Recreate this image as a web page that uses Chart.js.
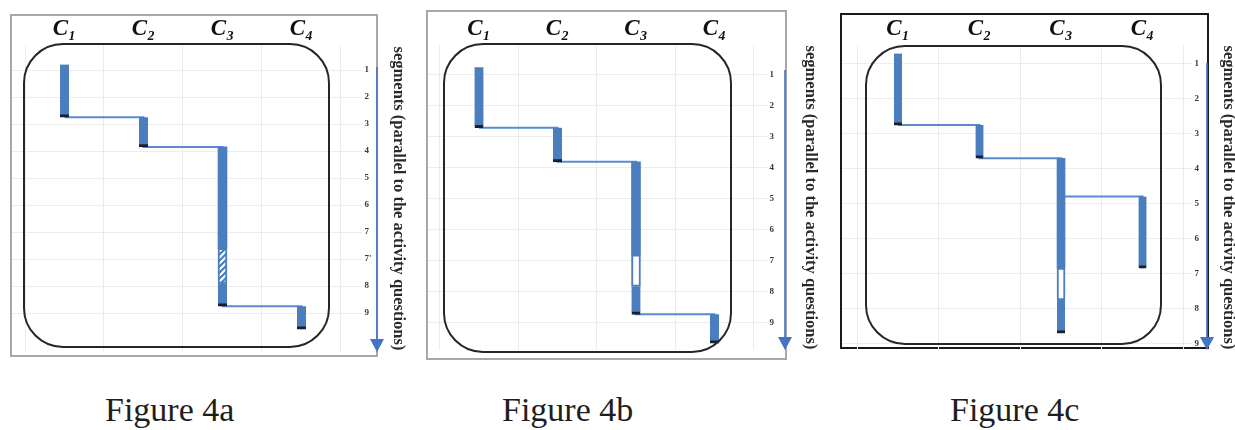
<!DOCTYPE html>
<html><head><meta charset="utf-8">
<script src="https://cdn.jsdelivr.net/npm/chart.js@4.4.1/dist/chart.umd.min.js"></script>
<style>
html,body{margin:0;padding:0;background:#fff;}
body{width:1235px;height:430px;overflow:hidden;position:relative;font-family:"Liberation Serif","Times New Roman",serif;}
.frame{position:absolute;box-sizing:border-box;z-index:0;}
.panel{position:absolute;top:0;height:370px;z-index:1;}
.rr{position:absolute;box-sizing:border-box;border:2px solid #262626;border-radius:40px;z-index:2;pointer-events:none;}
.caption{position:absolute;top:393px;font-size:34px;line-height:34px;color:#1e1e1e;white-space:nowrap;z-index:3;}
</style>
</head><body>

<div class="frame" style="left:10px;top:14px;width:368px;height:343px;border:2px solid #a8a8a8;"></div>
<div class="frame" style="left:426px;top:10px;width:361px;height:350px;border:2px solid #a8a8a8;"></div>
<div class="frame" style="left:840px;top:13px;width:369px;height:336px;border:2px solid #1a1a1a;"></div>

<div class="panel" style="left:0px;width:410px;"><canvas id="figA"></canvas></div>
<div class="panel" style="left:410px;width:413px;"><canvas id="figB"></canvas></div>
<div class="panel" style="left:825px;width:413px;"><canvas id="figC"></canvas></div>

<div class="rr" style="left:23px;top:43px;width:307px;height:305px;"></div>
<div class="rr" style="left:443px;top:43px;width:289px;height:310px;"></div>
<div class="rr" style="left:865px;top:45px;width:297px;height:300px;"></div>

<div class="caption" style="left:105px;">Figure 4a</div>
<div class="caption" style="left:502px;">Figure 4b</div>
<div class="caption" style="left:950px;">Figure 4c</div>

<script>
// ---------- data ----------
const columnLabels = ['C\u2081', 'C\u2082', 'C\u2083', 'C\u2084'];
const axisTitle = 'segments (parallel to the activity questions)';
const segmentTicksA = ['1', '2', '3', '4', '5', '6', '7', "7'", '8', '9'];
const segmentTicksB = ['1', '2', '3', '4', '5', '6', '7', '8', '9'];
const segmentTicksC = ['1', '2', '3', '4', '5', '6', '7', '8', '9'];

// Figure 4a
const a_pathCols = [1, 2, 3, 4];
const a_pathLevels = [2.75, 3.85, 9.75, 10.6];
const a_doneCols = [1, 2, 3, 4];
const a_doneStart = [0.8, 2.75, 8.9, 9.75];
const a_doneEnd = [2.75, 3.85, 9.75, 10.6];
const a_openCols = [3];
const a_openStart = [3.85];
const a_openEnd = [7.6];
const a_partCols = [3];
const a_partStart = [7.6];
const a_partEnd = [8.9];

// Figure 4b
const b_pathCols = [1, 2, 3, 4];
const b_pathLevels = [2.7, 3.8, 8.72, 9.65];
const b_doneCols = [1, 2, 3, 4];
const b_doneStart = [0.75, 2.7, 7.82, 8.72];
const b_doneEnd = [2.7, 3.8, 8.72, 9.65];
const b_openCols = [3];
const b_openStart = [3.8];
const b_openEnd = [6.8];
const b_partCols = [3];
const b_partStart = [6.8];
const b_partEnd = [7.82];

// Figure 4c
const c_pathCols = [1, 2, 3, 4];
const c_pathLevels = [2.75, 3.7, 4.8, 6.85];
const c_doneCols = [1, 2, 3, 4];
const c_doneStart = [0.7, 2.75, 7.76, 4.8];
const c_doneEnd = [2.75, 3.7, 8.71, 6.85];
const c_openCols = [3];
const c_openStart = [3.7];
const c_openEnd = [6.85];
const c_partCols = [3];
const c_partStart = [6.85];
const c_partEnd = [7.76];

// ---------- styling / layout ----------
const BLUE = '#4a7ebf';
const LINE_BLUE = '#5a8bd0';
const CAP = '#18202c';
const ARROW = '#4472c4';

function hatchPattern() {
  const c = document.createElement('canvas');
  c.width = 6; c.height = 6;
  const g = c.getContext('2d');
  g.fillStyle = '#ffffff'; g.fillRect(0, 0, 6, 6);
  g.strokeStyle = BLUE; g.lineWidth = 2.2;
  g.beginPath();
  g.moveTo(-1, 7); g.lineTo(7, -1);
  g.moveTo(-4, 4); g.lineTo(4, -4);
  g.moveTo(2, 10); g.lineTo(10, 2);
  g.stroke();
  return g.createPattern(c, 'repeat');
}

const arrowPlugin = {
  id: 'segArrow',
  afterDraw(chart, args, opts) {
    const ys = chart.scales.y, ca = chart.chartArea, ctx = chart.ctx;
    const x = ys.left + opts.dx;
    const top = ca.top + opts.dy;
    const bottom = ca.bottom;
    ctx.save();
    ctx.strokeStyle = ARROW; ctx.fillStyle = ARROW; ctx.lineWidth = 1.6;
    ctx.beginPath(); ctx.moveTo(x, top); ctx.lineTo(x, bottom - 8); ctx.stroke();
    ctx.beginPath(); ctx.moveTo(x - 7, bottom - 13); ctx.lineTo(x + 7, bottom - 13); ctx.lineTo(x, bottom); ctx.closePath(); ctx.fill();
    ctx.restore();
  }
};

const pts = (cols, s, e) => cols.map((c, i) => ({ x: c, y: [s[i], e[i]] }));
const path = (cols, lv) => cols.map((c, i) => ({ x: c, y: lv[i] }));

function makeChart(id, g, d) {
  const canvas = document.getElementById(id);
  new Chart(canvas, {
    type: 'bar',
    data: {
      datasets: [
        { type: 'line', label: 'path', data: path(d.pathCols, d.pathLevels), stepped: 'before',
          borderColor: LINE_BLUE, borderWidth: 2, pointRadius: 0, fill: false, order: 3 },
        { label: 'continued', data: pts(d.openCols, d.openStart, d.openEnd), backgroundColor: BLUE,
          borderWidth: 0, barThickness: g.bw, grouped: false, order: 2 },
        { label: 'partial', data: pts(d.partCols, d.partStart, d.partEnd), backgroundColor: d.partFill,
          borderColor: BLUE, borderWidth: 2, borderSkipped: false, barThickness: g.bw, grouped: false, order: 1 },
        { label: 'completed', data: pts(d.doneCols, d.doneStart, d.doneEnd), backgroundColor: BLUE,
          borderColor: CAP, borderWidth: { top: 0, left: 0, right: 0, bottom: 3 }, borderSkipped: false,
          barThickness: g.bw, grouped: false, order: 1 }
      ]
    },
    options: {
      responsive: true, maintainAspectRatio: false, animation: false,
      layout: { padding: { left: g.left, right: 0, top: 0, bottom: g.H - g.bottom } },
      plugins: { legend: { display: false }, tooltip: { enabled: false },
                 segArrow: { dx: g.adx, dy: g.ady } },
      scales: {
        x: {
          type: 'linear', position: 'top', min: g.xmin, max: g.xmax, offset: false,
          afterBuildTicks: s => { s.ticks = columnLabels.map((_, i) => ({ value: i + 1 })); },
          afterFit: s => { s.height = g.top; },
          ticks: { callback: (v, i) => columnLabels[i], autoSkip: false, maxRotation: 0, padding: g.xpad,
                   color: '#111', font: { family: 'Liberation Serif', size: 23, style: 'italic', weight: 'bold' } },
          grid: { offset: true, color: '#ececec', drawTicks: false },
          border: { display: false }
        },
        y: {
          type: 'linear', position: 'right', reverse: true, min: g.ymin, max: g.ymax,
          afterBuildTicks: s => { s.ticks = d.ticks.map((_, i) => ({ value: i + 1 })); },
          afterFit: s => { s.width = g.W - g.right; },
          ticks: { callback: (v, i) => d.ticks[i], autoSkip: false, padding: 2.5,
                   color: '#3a3a3a', font: { family: 'Liberation Serif', size: 9, weight: 'bold' } },
          grid: { color: '#ededed', drawTicks: false },
          border: { display: false },
          title: { display: true, text: axisTitle, color: '#2a2a2a', padding: g.tpad,
                   font: { family: 'Liberation Serif', size: 16.5, weight: 'bold' } }
        }
      }
    },
    plugins: [arrowPlugin]
  });
}

const hatch = hatchPattern();

makeChart('figA',
  { W: 410, H: 370, left: 12, right: 362, top: 45, bottom: 352, xmin: 0.3354, xmax: 4.766,
    ymin: 0.0741, ymax: 11.444, bw: 9, adx: 15, ady: 22, xpad: 2, tpad: 2 },
  { ticks: segmentTicksA, pathCols: a_pathCols, pathLevels: a_pathLevels,
    doneCols: a_doneCols, doneStart: a_doneStart, doneEnd: a_doneEnd,
    openCols: a_openCols, openStart: a_openStart, openEnd: a_openEnd,
    partCols: a_partCols, partStart: a_partStart, partEnd: a_partEnd, partFill: hatch });

makeChart('figB',
  { W: 413, H: 370, left: 18, right: 357, top: 45, bottom: 350, xmin: 0.3503, xmax: 4.669,
    ymin: 0.0323, ymax: 9.871, bw: 9, adx: 18, ady: 25, xpad: 2, tpad: 3 },
  { ticks: segmentTicksB, pathCols: b_pathCols, pathLevels: b_pathLevels,
    doneCols: b_doneCols, doneStart: b_doneStart, doneEnd: b_doneEnd,
    openCols: b_openCols, openStart: b_openStart, openEnd: b_openEnd,
    partCols: b_partCols, partStart: b_partStart, partEnd: b_partEnd, partFill: '#ffffff' });

makeChart('figC',
  { W: 413, H: 370, left: 17, right: 367, top: 45, bottom: 350, xmin: 0.3129, xmax: 4.607,
    ymin: 0.4556, ymax: 9.195, bw: 8, adx: 15, ady: 18, xpad: 2, tpad: 0 },
  { ticks: segmentTicksC, pathCols: c_pathCols, pathLevels: c_pathLevels,
    doneCols: c_doneCols, doneStart: c_doneStart, doneEnd: c_doneEnd,
    openCols: c_openCols, openStart: c_openStart, openEnd: c_openEnd,
    partCols: c_partCols, partStart: c_partStart, partEnd: c_partEnd, partFill: '#ffffff' });
</script>
</body></html>
